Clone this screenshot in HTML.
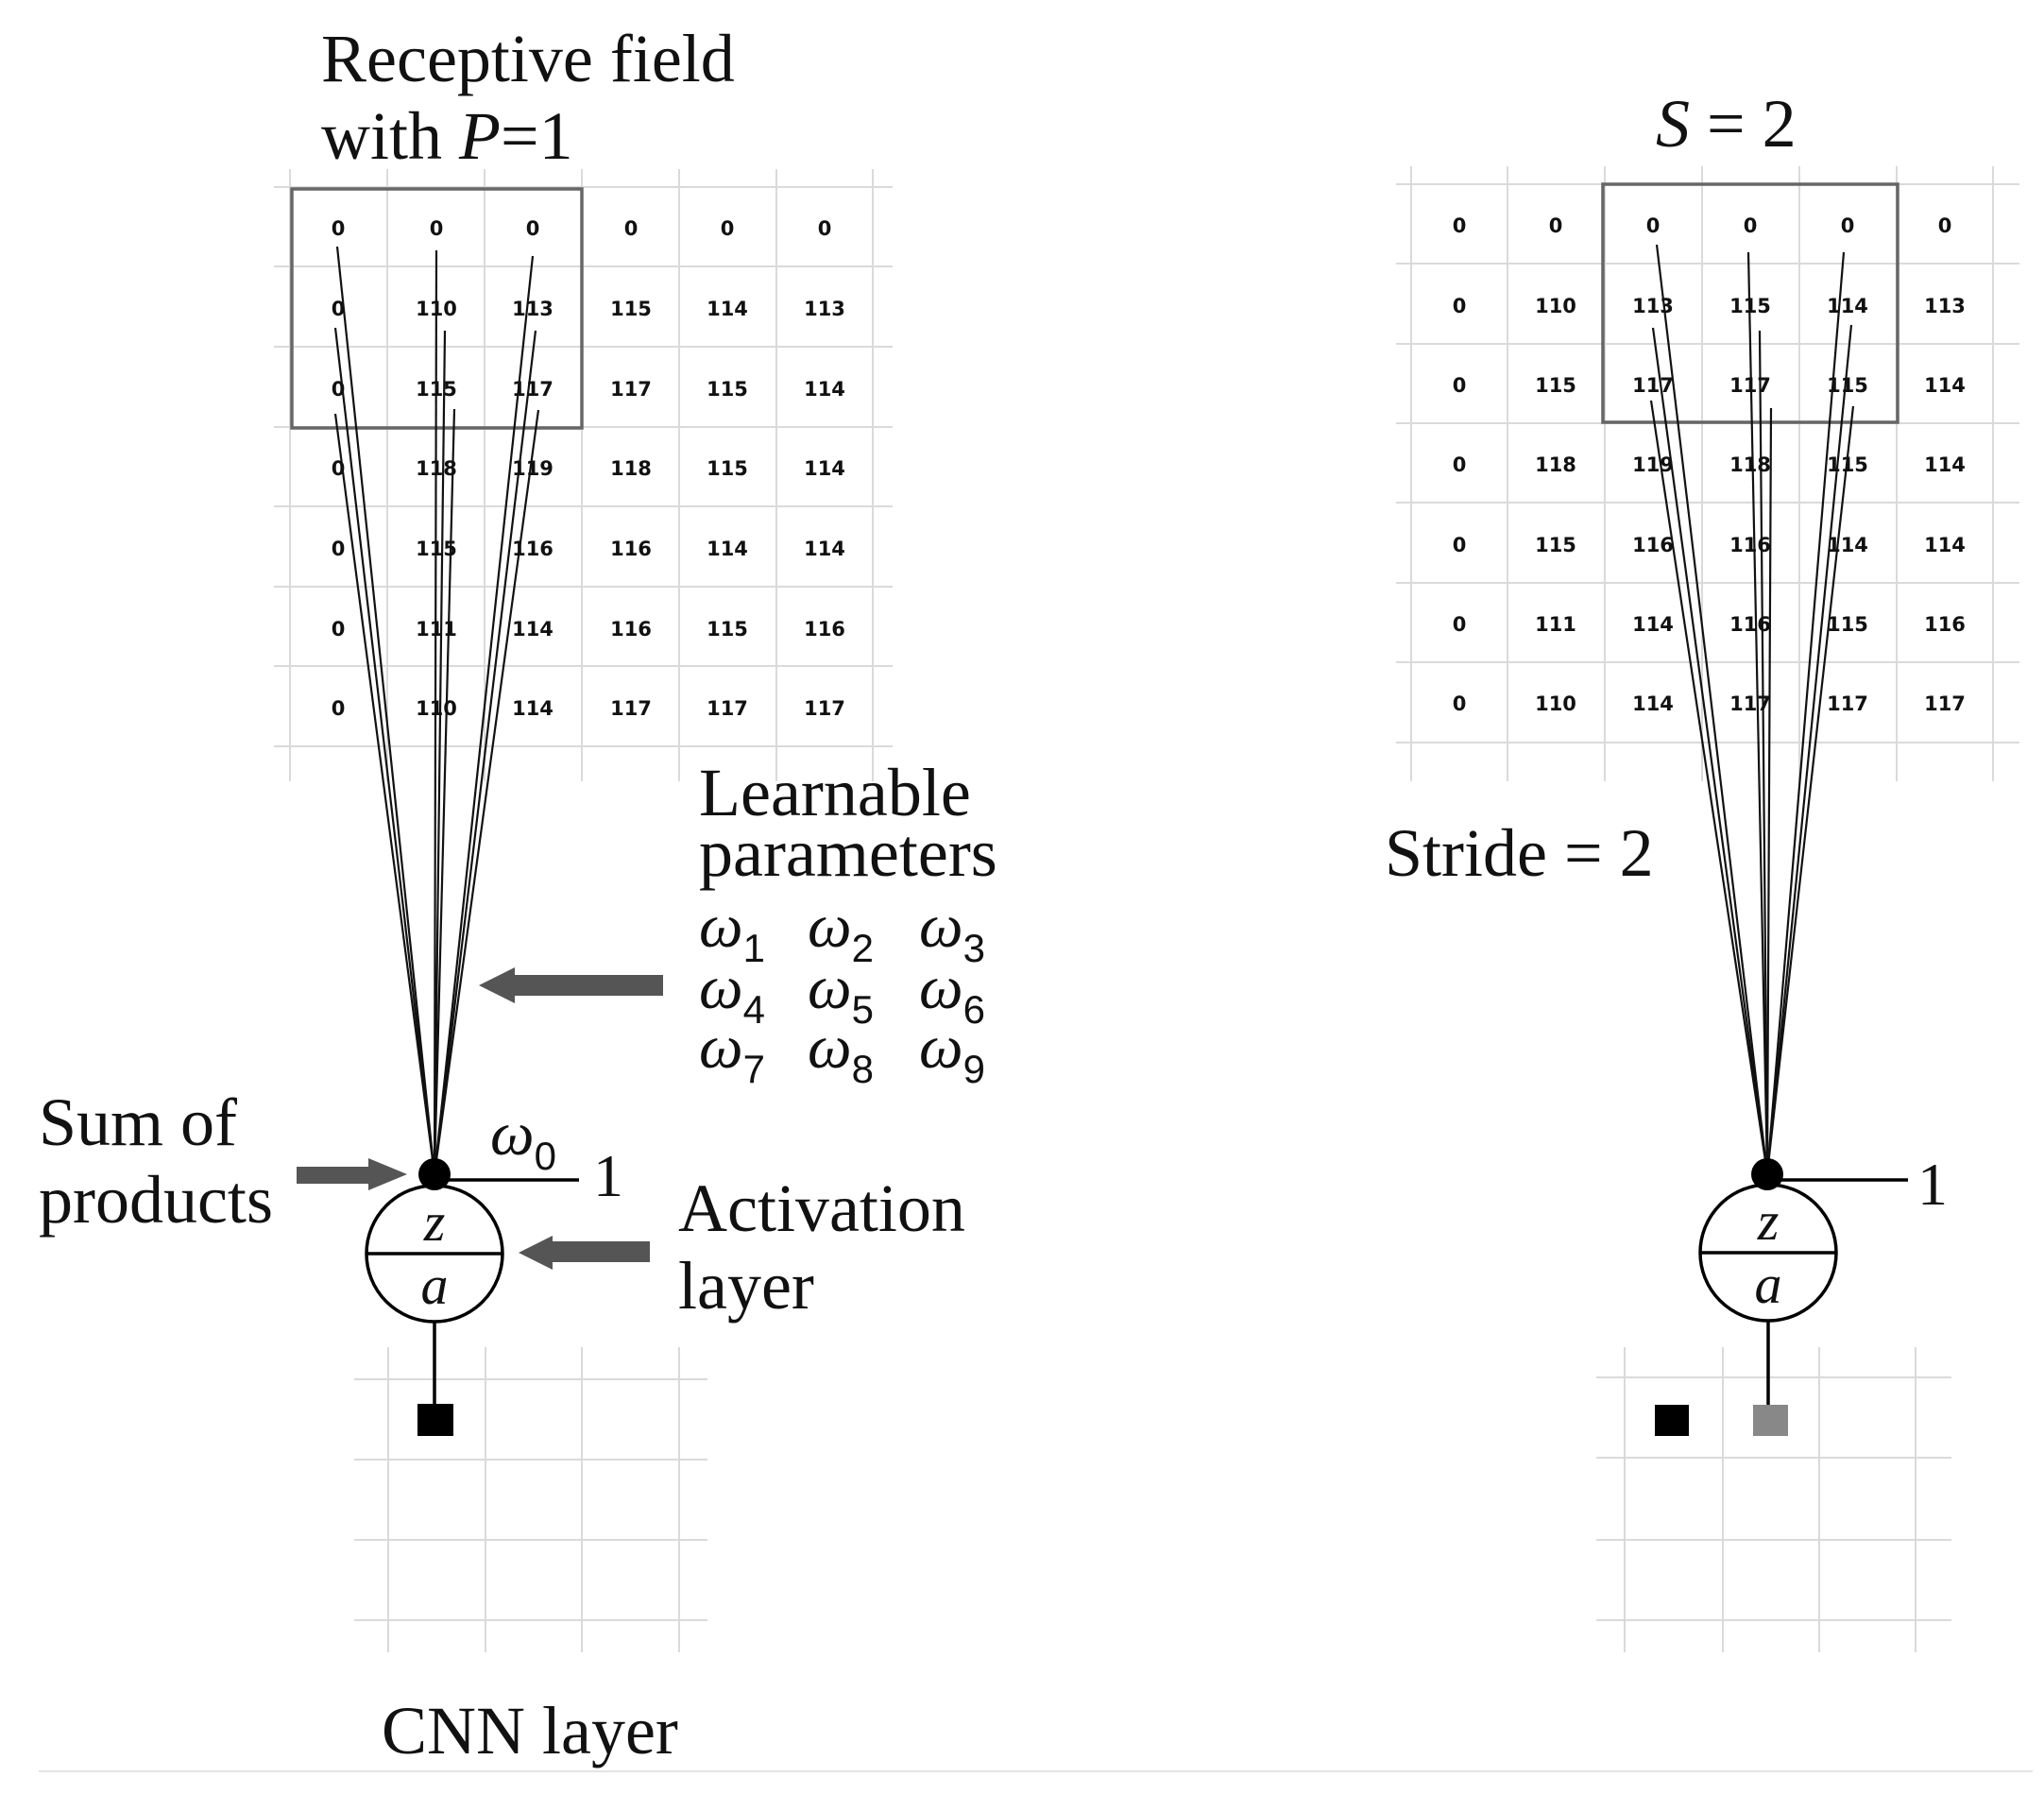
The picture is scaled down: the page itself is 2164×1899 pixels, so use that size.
<!DOCTYPE html>
<html><head><meta charset="utf-8"><style>
html,body{margin:0;padding:0;background:#fff}
svg{display:block}
.t{font-family:"Liberation Serif",serif;fill:#111}
.n{font-family:"DejaVu Sans","Liberation Sans",sans-serif;font-weight:bold;font-size:21px;fill:#111;text-anchor:middle}
.w{font-family:"Liberation Serif",serif;font-style:italic;font-size:66px;fill:#111}
.s{font-family:"Liberation Sans",sans-serif;font-style:normal;font-size:42px;fill:#111}
</style></head><body>
<svg width="2164" height="1899" viewBox="0 0 2164 1899" xmlns="http://www.w3.org/2000/svg">
<g stroke="#dadada" stroke-width="2" fill="none">
<line x1="307" y1="179" x2="307" y2="827"/><line x1="410" y1="179" x2="410" y2="827"/><line x1="513" y1="179" x2="513" y2="827"/><line x1="616" y1="179" x2="616" y2="827"/><line x1="719" y1="179" x2="719" y2="827"/><line x1="822" y1="179" x2="822" y2="827"/><line x1="924" y1="179" x2="924" y2="827"/>
<line x1="290" y1="198" x2="945" y2="198"/><line x1="290" y1="282" x2="945" y2="282"/><line x1="290" y1="367" x2="945" y2="367"/><line x1="290" y1="452" x2="945" y2="452"/><line x1="290" y1="536" x2="945" y2="536"/><line x1="290" y1="621" x2="945" y2="621"/><line x1="290" y1="705" x2="945" y2="705"/><line x1="290" y1="790" x2="945" y2="790"/>
<line x1="1494" y1="176" x2="1494" y2="827"/><line x1="1596" y1="176" x2="1596" y2="827"/><line x1="1699" y1="176" x2="1699" y2="827"/><line x1="1802" y1="176" x2="1802" y2="827"/><line x1="1905" y1="176" x2="1905" y2="827"/><line x1="2008" y1="176" x2="2008" y2="827"/><line x1="2110" y1="176" x2="2110" y2="827"/>
<line x1="1478" y1="195" x2="2138" y2="195"/><line x1="1478" y1="279" x2="2138" y2="279"/><line x1="1478" y1="364" x2="2138" y2="364"/><line x1="1478" y1="448" x2="2138" y2="448"/><line x1="1478" y1="532" x2="2138" y2="532"/><line x1="1478" y1="617" x2="2138" y2="617"/><line x1="1478" y1="701" x2="2138" y2="701"/><line x1="1478" y1="786" x2="2138" y2="786"/>
<line x1="411" y1="1426" x2="411" y2="1749"/><line x1="514" y1="1426" x2="514" y2="1749"/><line x1="616" y1="1426" x2="616" y2="1749"/><line x1="719" y1="1426" x2="719" y2="1749"/>
<line x1="375" y1="1460" x2="749" y2="1460"/><line x1="375" y1="1545" x2="749" y2="1545"/><line x1="375" y1="1630" x2="749" y2="1630"/><line x1="375" y1="1715" x2="749" y2="1715"/>
<line x1="1720" y1="1426" x2="1720" y2="1749"/><line x1="1824" y1="1426" x2="1824" y2="1749"/><line x1="1926" y1="1426" x2="1926" y2="1749"/><line x1="2028" y1="1426" x2="2028" y2="1749"/>
<line x1="1690" y1="1458" x2="2066" y2="1458"/><line x1="1690" y1="1543" x2="2066" y2="1543"/><line x1="1690" y1="1630" x2="2066" y2="1630"/><line x1="1690" y1="1715" x2="2066" y2="1715"/>
<line x1="41" y1="1875" x2="2152" y2="1875" stroke="#e4e4e4"/>
</g>

<g class="n">
<text x="358" y="249">0</text><text x="462" y="249">0</text><text x="564" y="249">0</text><text x="668" y="249">0</text><text x="770" y="249">0</text><text x="873" y="249">0</text>
<text x="358" y="334">0</text><text x="462" y="334">110</text><text x="564" y="334">113</text><text x="668" y="334">115</text><text x="770" y="334">114</text><text x="873" y="334">113</text>
<text x="358" y="419">0</text><text x="462" y="419">115</text><text x="564" y="419">117</text><text x="668" y="419">117</text><text x="770" y="419">115</text><text x="873" y="419">114</text>
<text x="358" y="503">0</text><text x="462" y="503">118</text><text x="564" y="503">119</text><text x="668" y="503">118</text><text x="770" y="503">115</text><text x="873" y="503">114</text>
<text x="358" y="588">0</text><text x="462" y="588">115</text><text x="564" y="588">116</text><text x="668" y="588">116</text><text x="770" y="588">114</text><text x="873" y="588">114</text>
<text x="358" y="673">0</text><text x="462" y="673">111</text><text x="564" y="673">114</text><text x="668" y="673">116</text><text x="770" y="673">115</text><text x="873" y="673">116</text>
<text x="358" y="757">0</text><text x="462" y="757">110</text><text x="564" y="757">114</text><text x="668" y="757">117</text><text x="770" y="757">117</text><text x="873" y="757">117</text>
</g>
<g class="n">
<text x="1545" y="246">0</text><text x="1647" y="246">0</text><text x="1750" y="246">0</text><text x="1853" y="246">0</text><text x="1956" y="246">0</text><text x="2059" y="246">0</text>
<text x="1545" y="331">0</text><text x="1647" y="331">110</text><text x="1750" y="331">113</text><text x="1853" y="331">115</text><text x="1956" y="331">114</text><text x="2059" y="331">113</text>
<text x="1545" y="415">0</text><text x="1647" y="415">115</text><text x="1750" y="415">117</text><text x="1853" y="415">117</text><text x="1956" y="415">115</text><text x="2059" y="415">114</text>
<text x="1545" y="499">0</text><text x="1647" y="499">118</text><text x="1750" y="499">119</text><text x="1853" y="499">118</text><text x="1956" y="499">115</text><text x="2059" y="499">114</text>
<text x="1545" y="584">0</text><text x="1647" y="584">115</text><text x="1750" y="584">116</text><text x="1853" y="584">116</text><text x="1956" y="584">114</text><text x="2059" y="584">114</text>
<text x="1545" y="668">0</text><text x="1647" y="668">111</text><text x="1750" y="668">114</text><text x="1853" y="668">116</text><text x="1956" y="668">115</text><text x="2059" y="668">116</text>
<text x="1545" y="752">0</text><text x="1647" y="752">110</text><text x="1750" y="752">114</text><text x="1853" y="752">117</text><text x="1956" y="752">117</text><text x="2059" y="752">117</text>
</g>

<rect x="309" y="200" width="307" height="253" fill="none" stroke="#666" stroke-width="3.5"/>
<rect x="1697" y="195" width="312" height="252" fill="none" stroke="#666" stroke-width="3.5"/>

<g stroke="#111" stroke-width="2.2">
<line x1="357" y1="261" x2="460" y2="1243"/><line x1="462" y1="265" x2="460" y2="1243"/><line x1="564" y1="271" x2="460" y2="1243"/>
<line x1="355" y1="347" x2="460" y2="1243"/><line x1="471" y1="350" x2="460" y2="1243"/><line x1="567" y1="350" x2="460" y2="1243"/>
<line x1="355" y1="438" x2="460" y2="1243"/><line x1="481" y1="433" x2="460" y2="1243"/><line x1="570" y1="434" x2="460" y2="1243"/>
<line x1="1754" y1="259" x2="1871" y2="1242"/><line x1="1851" y1="267" x2="1871" y2="1242"/><line x1="1952" y1="267" x2="1871" y2="1242"/>
<line x1="1750" y1="347" x2="1871" y2="1242"/><line x1="1863" y1="350" x2="1871" y2="1242"/><line x1="1960" y1="344" x2="1871" y2="1242"/>
<line x1="1748" y1="424" x2="1871" y2="1242"/><line x1="1875" y1="432" x2="1871" y2="1242"/><line x1="1962" y1="430" x2="1871" y2="1242"/>
</g>

<g stroke="#000" stroke-width="3.5" fill="none">
<circle cx="460" cy="1327" r="72"/><line x1="388" y1="1327" x2="532" y2="1327"/>
<line x1="460" y1="1249" x2="613" y2="1249"/><line x1="460" y1="1399" x2="460" y2="1486"/>
<circle cx="1872" cy="1326" r="72"/><line x1="1800" y1="1326" x2="1944" y2="1326"/>
<line x1="1871" y1="1249" x2="2020" y2="1249"/><line x1="1872" y1="1398" x2="1872" y2="1487"/>
</g>
<circle cx="460" cy="1243" r="17" fill="#000"/>
<circle cx="1871" cy="1243" r="17" fill="#000"/>
<rect x="442" y="1486" width="38" height="34" fill="#000"/>
<rect x="1752" y="1487" width="36" height="33" fill="#000"/>
<rect x="1856" y="1487" width="37" height="33" fill="#888"/>

<g class="t" font-style="italic" font-size="58" text-anchor="middle">
<text x="460" y="1313">z</text><text x="460" y="1380">a</text>
<text x="1872" y="1312">z</text><text x="1872" y="1379">a</text>
</g>

<g fill="#555">
<polygon points="314,1235 390,1235 390,1226 431,1243 390,1260 390,1253 314,1253"/>
<polygon points="688,1314 585,1314 585,1308 549,1326 585,1344 585,1336 688,1336"/>
<polygon points="702,1032 545,1032 545,1024 507,1043 545,1062 545,1054 702,1054"/>
</g>

<g class="t" font-size="72">
<text x="340" y="86">Receptive field</text>
<text x="340" y="168">with <tspan font-style="italic">P</tspan>=1</text>
<text x="740" y="863">Learnable</text>
<text x="740" y="927">parameters</text>
<text x="41" y="1212">Sum of</text>
<text x="41" y="1294">products</text>
<text x="718" y="1303">Activation</text>
<text x="718" y="1385">layer</text>
<text x="404" y="1856" font-size="72">CNN layer</text>
<text x="1466" y="927">Stride = 2</text>
<text x="1753" y="155"><tspan font-style="italic">S</tspan> = 2</text>
<text x="628" y="1266" font-size="64">1</text>
<text x="2030" y="1275" font-size="64">1</text>
</g>

<g>
<text class="w" x="740" y="1002">ω<tspan class="s" dy="16">1</tspan></text>
<text class="w" x="855" y="1002">ω<tspan class="s" dy="16">2</tspan></text>
<text class="w" x="973" y="1002">ω<tspan class="s" dy="16">3</tspan></text>
<text class="w" x="740" y="1067">ω<tspan class="s" dy="16">4</tspan></text>
<text class="w" x="855" y="1067">ω<tspan class="s" dy="16">5</tspan></text>
<text class="w" x="973" y="1067">ω<tspan class="s" dy="16">6</tspan></text>
<text class="w" x="740" y="1130">ω<tspan class="s" dy="16">7</tspan></text>
<text class="w" x="855" y="1130">ω<tspan class="s" dy="16">8</tspan></text>
<text class="w" x="973" y="1130">ω<tspan class="s" dy="16">9</tspan></text>
<text class="w" x="519" y="1222">ω<tspan class="s" dy="16">0</tspan></text>
</g>
</svg>
</body></html>
